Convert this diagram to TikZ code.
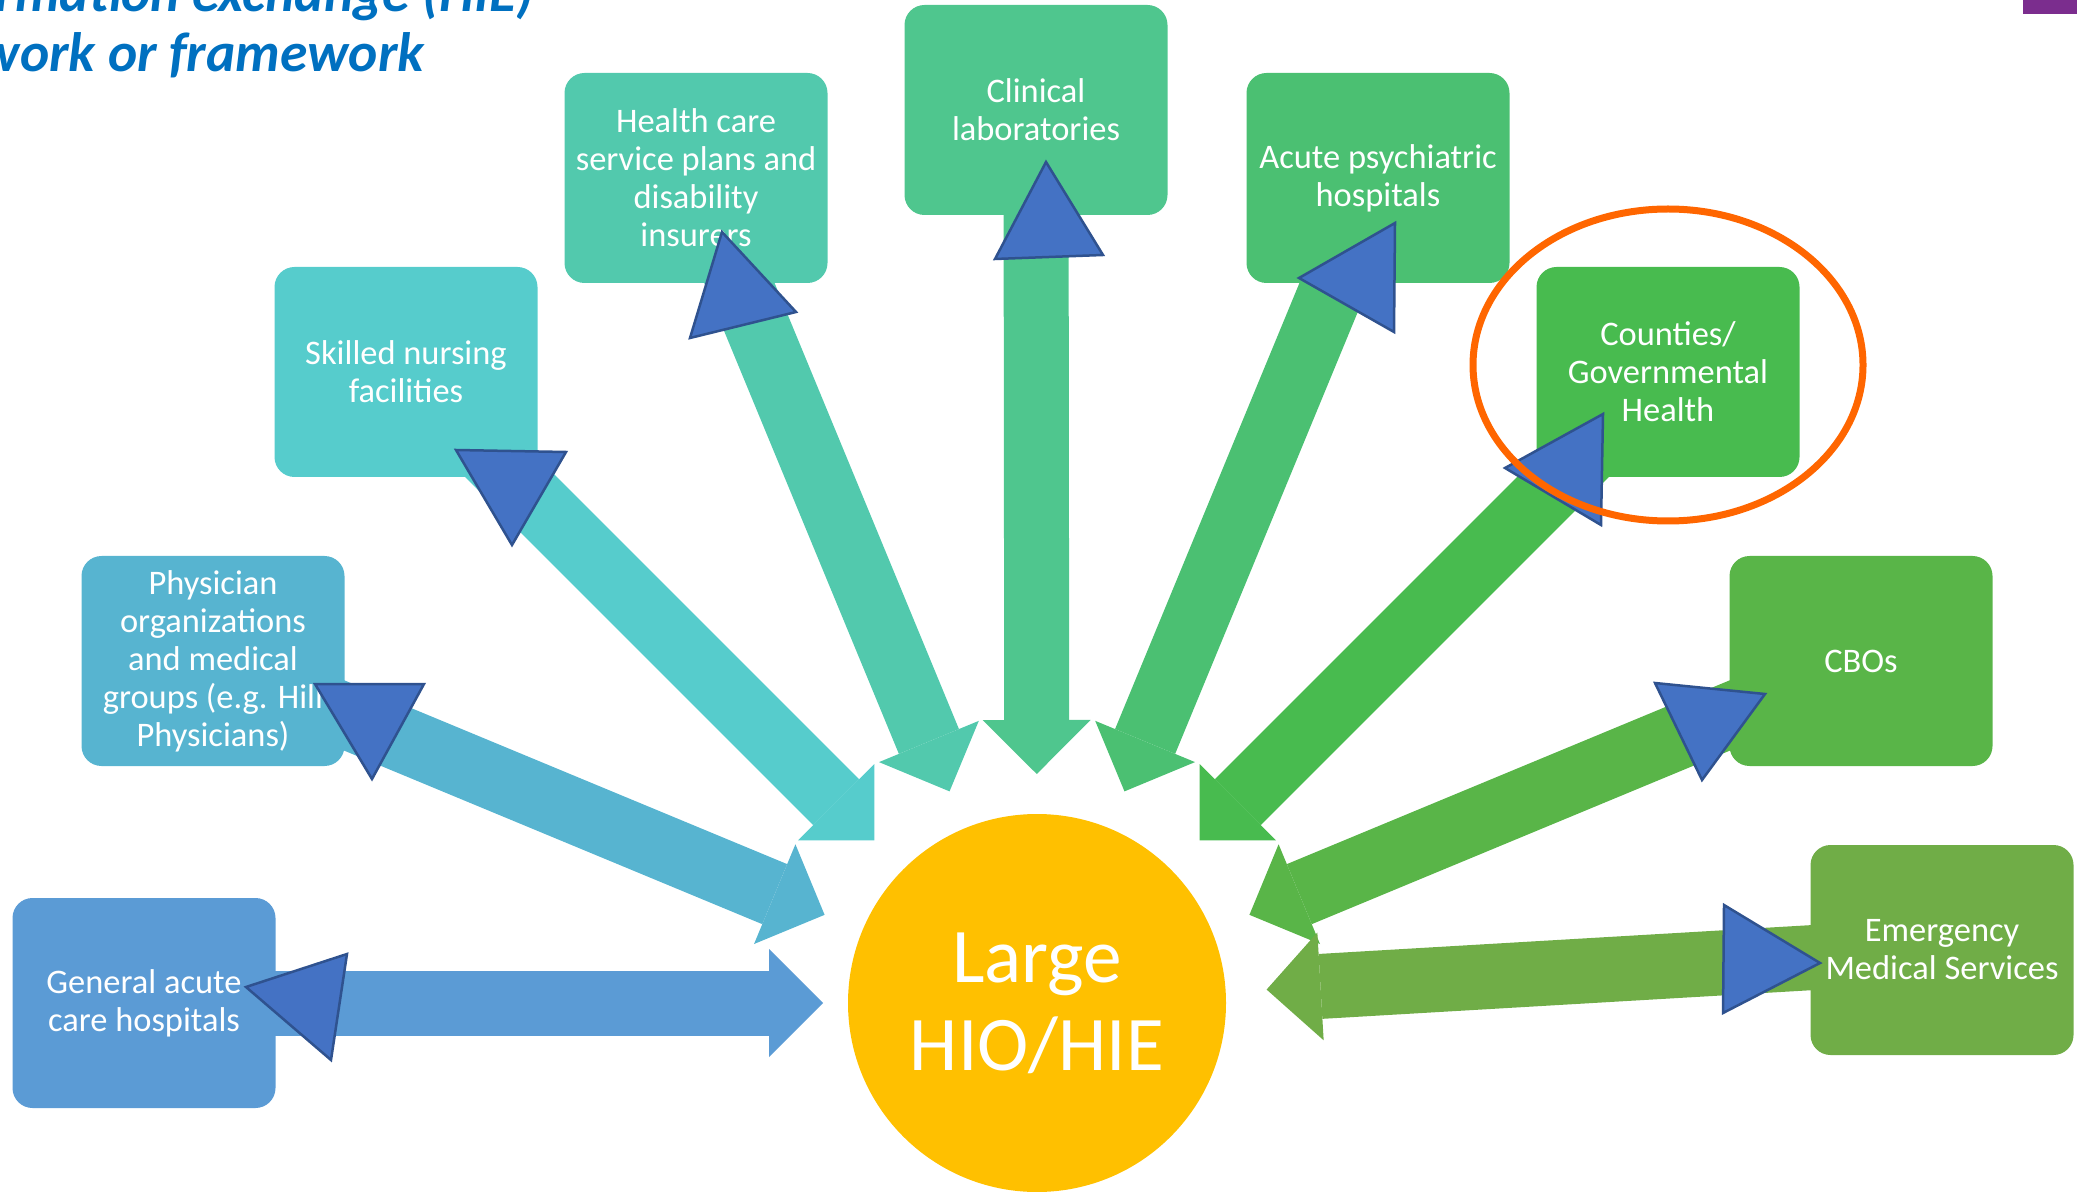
\documentclass[tikz,border=0pt]{standalone}
\usepackage{fontspec}
\setmainfont{Carlito}
\usetikzlibrary{positioning}
\usetikzlibrary{calc}
\usetikzlibrary{arrows.meta}
\usetikzlibrary{backgrounds}

\definecolor{gahblue}{HTML}{5B9BD5}
\definecolor{physblue}{HTML}{57B4D0}
\definecolor{snfteal}{HTML}{56CCCC}
\definecolor{planteal}{HTML}{52C9AD}
\definecolor{labgreen}{HTML}{4FC68E}
\definecolor{psychgreen}{HTML}{4BC072}
\definecolor{countygreen}{HTML}{48BB4F}
\definecolor{cbogreen}{HTML}{59B548}
\definecolor{emsgreen}{HTML}{70AD47}
\definecolor{hubyellow}{HTML}{FFC000}
\definecolor{tipblue}{HTML}{4472C4}
\definecolor{tipedge}{HTML}{2F528F}
\definecolor{ringorange}{HTML}{FF6600}
\definecolor{titleblue}{HTML}{0070C0}
\definecolor{slidepurple}{HTML}{7B2D8E}

\begin{document}
\begin{tikzpicture}[
      x=0.1mm,y=-0.1mm,
      orgblock/.style={rectangle,rounded corners=2mm,minimum width=26.3mm,minimum height=21mm,
        inner sep=0pt,align=center,text=white,font=\fontsize{9.8}{10.8}\selectfont},
      hubblock/.style={circle,fill=hubyellow,minimum size=37.8mm,inner sep=0pt,align=center,
        text=white,font=\fontsize{22}{25}\selectfont},
      bigarrow/.style={line width=6.5mm,-{Triangle[length=5.4mm,width=10.8mm,line width=0pt]}},
      backtip/.style={fill=tipblue,draw=tipedge,line width=0.25mm,line join=miter},
      titletext/.style={text=titleblue,font=\fontsize{15.8}{19}\selectfont\bfseries\itshape,inner sep=0pt}]
      \useasboundingbox (0,0) rectangle (2077,1192);

      % Title (cut by the slide edge)
      \node[titletext,anchor=base east] (title1) at (535,12) {information exchange (HIE)};
      \node[titletext,anchor=base east] (title2) at (425,72) {network or framework};
      \fill[slidepurple] (2023,0) rectangle (2077,14);

      % Hub
      \node[hubblock] (hub) at (1037,1003) {Large\\HIO/HIE};

      % Blocks
      \node[orgblock,fill=gahblue]     (gah)    at (144,1003) {General acute\\care hospitals};
      \node[orgblock,fill=physblue]    (phys)   at (213,661)  {Physician\\organizations\\and medical\\groups (e.g. Hill\\Physicians)};
      \node[orgblock,fill=snfteal]     (snf)    at (406,372)  {Skilled nursing\\facilities};
      \node[orgblock,fill=planteal]    (plans)  at (696,178)  {Health care\\service plans and\\disability\\insurers};
      \node[orgblock,fill=labgreen]    (labs)   at (1036,110) {Clinical\\laboratories};
      \node[orgblock,fill=psychgreen]  (psych)  at (1378,178) {Acute psychiatric\\hospitals};
      \node[orgblock,fill=countygreen] (county) at (1668,372) {Counties/\\Governmental\\Health};
      \node[orgblock,fill=cbogreen]    (cbo)    at (1861,661) {CBOs};
      \node[orgblock,fill=emsgreen]    (ems)    at (1942,950) {Emergency\\Medical Services};

      % Arrows into the hub
      \begin{scope}[on background layer]
        \foreach \org/\col/\gap in {gah/gahblue/21.4mm,phys/physblue/23mm,snf/snfteal/23mm,
            plans/planteal/22.9mm,labs/labgreen/22.9mm,psych/psychgreen/22.9mm,
            county/countygreen/23mm,cbo/cbogreen/23mm,ems/emsgreen/23mm}
          \draw[bigarrow,draw=\col] (\org.center) -- ($(hub.center)!\gap!(\org.center)$);
      \end{scope}

      % Arrow heads back to the blocks
      \draw[backtip] (246,987) -- (347,954) -- (331,1060) -- cycle;
      \draw[backtip] (315,684) -- (424,684) -- (372,779) -- cycle;
      \draw[backtip] (456,450) -- (566,452) -- (512,545) -- cycle;
      \draw[backtip] (722,232) -- (796,312) -- (690,338) -- cycle;
      \draw[backtip] (1046,162) -- (1103,255) -- (995,259) -- cycle;
      \draw[backtip] (1299,278) -- (1395,223) -- (1394,332) -- cycle;
      \draw[backtip] (1505,468) -- (1603,414) -- (1601,525) -- cycle;
      \draw[backtip] (1655,683) -- (1765,694) -- (1702,780) -- cycle;
      \draw[backtip] (1724,905) -- (1820,963) -- (1723,1013) -- cycle;

      % Highlight
      \coordinate (ring) at (1668,365);
      \draw[ringorange,line width=0.7mm] (ring) ellipse [x radius=19.5mm,y radius=15.6mm];
\end{tikzpicture}
\end{document}
